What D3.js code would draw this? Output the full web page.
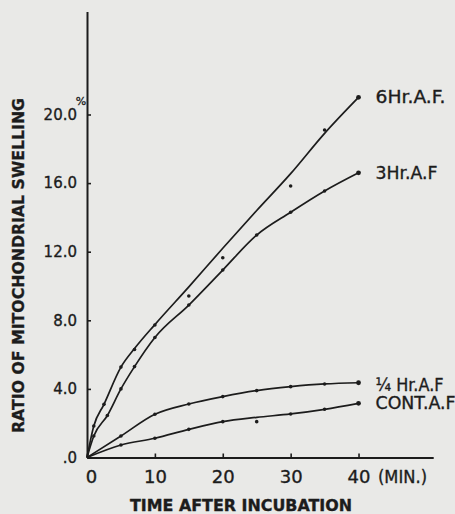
<!DOCTYPE html>
<meta charset="utf-8">
<style>
body { margin: 0; background: #e9e9e7; }
svg { display: block; }
text { fill: #1c1c1c; stroke: #1c1c1c; stroke-width: 0.35; font-family: "DejaVu Sans", sans-serif; }
.axis path, .axis line { stroke: #1c1c1c; }
.curve { fill: none; stroke: #1c1c1c; stroke-width: 1.7; }
.dot { fill: #1c1c1c; }
</style>
<body>
<script src="https://d3js.org/d3.v7.min.js"></script>
<script>

// values: time (min) and ratio of swelling (%)
var sixHrTime = [0, 1, 2.5, 5, 7, 10, 15, 20, 30, 35, 40];
var sixHrDots = [0, 1.84, 3.1, 5.27, 6.3, 7.73, 9.42, 11.65, 15.83, 19.1, 21.0];
var sixHrFitTime = [0, 1, 2.5, 5, 7, 10, 15, 20, 25, 30, 35, 40];
var sixHrFit = [0, 1.84, 3.1, 5.27, 6.35, 7.75, 9.95, 12.2, 14.4, 16.55, 18.9, 21.0];

var threeHrTime = [0, 1, 3, 5, 7, 10, 15, 20, 25, 30, 35, 40];
var threeHrDots = [0, 1.25, 2.45, 4.0, 5.3, 7.0, 8.89, 10.93, 12.97, 14.3, 15.54, 16.6];

var quarterHrTime = [0, 5, 10, 15, 20, 25, 30, 35, 40];
var quarterHrDots = [0, 1.25, 2.52, 3.12, 3.55, 3.9, 4.13, 4.29, 4.36];

var contTime = [0, 5, 10, 15, 20, 25, 30, 35, 40];
var contDots = [0, 0.73, 1.12, 1.64, 2.09, 2.09, 2.54, 2.81, 3.16];
var contFit = [0, 0.73, 1.12, 1.64, 2.09, 2.34, 2.54, 2.81, 3.16];

var seriesNames = ["6Hr.A.F.", "3Hr.A.F", "\u00BC Hr.A.F", "CONT.A.F"];

var xTicks = [0, 10, 20, 30, 40];
var xTickLabels = ["0", "10", "20", "30", "40"];
var yTicks = [0, 4, 8, 12, 16, 20];
var yTickLabels = [".0", "4.0", "8.0", "12.0", "16.0", "20.0"];

function pairs(t, v) { return t.map(function(d, i) { return [d, v[i]]; }); }

var series = [
  { name: seriesNames[0], dots: pairs(sixHrTime, sixHrDots), fit: pairs(sixHrFitTime, sixHrFit), labelW: 70, labelDy: 0 },
  { name: seriesNames[1], dots: pairs(threeHrTime, threeHrDots), fit: pairs(threeHrTime, threeHrDots), labelW: 62, labelDy: 0 },
  { name: seriesNames[2], dots: pairs(quarterHrTime, quarterHrDots), fit: pairs(quarterHrTime, quarterHrDots), labelW: 68, labelDy: 2 },
  { name: seriesNames[3], dots: pairs(contTime, contDots), fit: pairs(contTime, contFit), labelW: 80, labelDy: 0 }
];

var width = 455, height = 514;

// axes run past the last tick, as in the figure
var x = d3.scaleLinear().domain([0, 51]).range([87, 433.2]);
var y = d3.scaleLinear().domain([0, 26]).range([457.5, 11.6]);

var svg = d3.select("body").append("svg")
    .attr("width", width)
    .attr("height", height);

// x axis
var gx = svg.append("g")
    .attr("class", "axis")
    .attr("transform", "translate(0," + y(0) + ")")
    .call(d3.axisBottom(x)
      .tickValues(xTicks)
      .tickFormat(function(d, i) { return xTickLabels[i]; })
      .tickSizeInner(-4)
      .tickSizeOuter(0)
      .tickPadding(13));
gx.select(".domain").attr("stroke-width", 2);
gx.selectAll(".tick line").attr("stroke-width", 1.6);
gx.selectAll("text")
    .attr("font-size", 18)
    .attr("font-family", null)
    .attr("fill", null)
    .attr("dx", function(d) { return d === 0 ? 4 : 0; });

// y axis
var gy = svg.append("g")
    .attr("class", "axis")
    .attr("transform", "translate(" + x(0) + ",0)")
    .call(d3.axisLeft(y)
      .tickValues(yTicks)
      .tickFormat(function(d, i) { return yTickLabels[i]; })
      .tickSizeInner(-4)
      .tickSizeOuter(0)
      .tickPadding(10));
gy.select(".domain").attr("stroke-width", 2);
gy.selectAll(".tick line").attr("stroke-width", 1.6);
gy.selectAll("text")
    .attr("font-size", 15)
    .attr("font-family", null)
    .attr("fill", null);

// % sign next to the top tick
svg.append("text")
    .attr("x", x(0) - 6)
    .attr("y", y(20) - 10)
    .attr("text-anchor", "middle")
    .attr("font-size", 11)
    .text("%");

svg.append("text")
    .attr("x", 378)
    .attr("y", y(0) + 25.5)
    .attr("font-size", 17)
    .attr("textLength", 49)
    .attr("lengthAdjust", "spacingAndGlyphs")
    .text("(MIN.)");

// axis titles
svg.append("text")
    .attr("transform", "translate(24," + 265.5 + ") rotate(-90)")
    .attr("text-anchor", "middle")
    .attr("font-size", 16)
    .attr("font-weight", "bold")
    .attr("textLength", 335)
    .attr("lengthAdjust", "spacingAndGlyphs")
    .text("RATIO OF MITOCHONDRIAL SWELLING");

svg.append("text")
    .attr("x", 241)
    .attr("y", 510.5)
    .attr("text-anchor", "middle")
    .attr("font-size", 15.5)
    .attr("font-weight", 600)
    .attr("textLength", 222)
    .attr("lengthAdjust", "spacingAndGlyphs")
    .text("TIME AFTER INCUBATION");

// curves, dots and labels
var line = d3.line()
    .x(function(d) { return x(d[0]); })
    .y(function(d) { return y(d[1]); })
    .curve(d3.curveMonotoneX);

series.forEach(function(s) {
  svg.append("path")
      .attr("class", "curve")
      .attr("d", line(s.fit));

  svg.selectAll(null)
      .data(s.dots.slice(1))
    .enter().append("circle")
      .attr("class", "dot")
      .attr("cx", function(d) { return x(d[0]); })
      .attr("cy", function(d) { return y(d[1]); })
      .attr("r", function(d) { return d[0] === 40 ? 2.4 : 1.8; });

  var last = s.dots[s.dots.length - 1];
  svg.append("text")
      .attr("x", x(last[0]) + 17)
      .attr("y", y(last[1]) + s.labelDy)
      .attr("dy", "0.36em")
      .attr("font-size", 17)
      .attr("font-family", "Liberation Sans, Arial, sans-serif")
      .attr("stroke-width", 0.5)
      .attr("textLength", s.labelW)
      .attr("lengthAdjust", "spacingAndGlyphs")
      .text(s.name);
});

</script>
</body>
